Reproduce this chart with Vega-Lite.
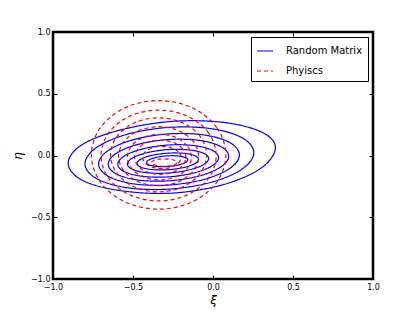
{
  "$schema": "https://vega.github.io/schema/vega-lite/v6.json",
  "width": 320,
  "height": 247,
  "autosize": {"type": "none"},
  "padding": {"left": 53, "top": 32, "right": 42, "bottom": 33},
  "background": "white",
  "config": {
    "font": "DejaVu Sans",
    "view": {"stroke": "black", "strokeWidth": 2.5},
    "axis": {"domain": false, "grid": false, "tickColor": "black", "tickSize": -4, "tickWidth": 1, "labelFontSize": 8, "labelColor": "black", "titleFontSize": 12, "titleFontWeight": "normal", "titleFontStyle": "italic", "titleColor": "black", "labelFlush": false},
    "legend": {"orient": "top-right", "offset": 5, "strokeColor": "black", "fillColor": "white", "padding": 5, "cornerRadius": 0, "labelFontSize": 10, "labelColor": "black", "symbolType": "stroke", "symbolSize": 256, "symbolStrokeWidth": 1.2, "labelOffset": 12, "rowPadding": 6}
  },
  "data": {"values": [
    {"s":"Random Matrix","c":"b1","i":0,"x":0.39,"y":0.065},
    {"s":"Random Matrix","c":"b1","i":1,"x":0.303,"y":0.19},
    {"s":"Random Matrix","c":"b1","i":2,"x":0.066,"y":0.268},
    {"s":"Random Matrix","c":"b1","i":3,"x":-0.2575,"y":0.276},
    {"s":"Random Matrix","c":"b1","i":4,"x":-0.581,"y":0.206},
    {"s":"Random Matrix","c":"b1","i":5,"x":-0.818,"y":0.088},
    {"s":"Random Matrix","c":"b1","i":6,"x":-0.905,"y":-0.062},
    {"s":"Random Matrix","c":"b1","i":7,"x":-0.818,"y":-0.2},
    {"s":"Random Matrix","c":"b1","i":8,"x":-0.581,"y":-0.284},
    {"s":"Random Matrix","c":"b1","i":9,"x":-0.2575,"y":-0.305},
    {"s":"Random Matrix","c":"b1","i":10,"x":0.066,"y":-0.235},
    {"s":"Random Matrix","c":"b1","i":11,"x":0.303,"y":-0.1},

    {"s":"Random Matrix","c":"b2","i":0,"x":0.255,"y":0.023},
    {"s":"Random Matrix","c":"b2","i":1,"x":0.184,"y":0.142},
    {"s":"Random Matrix","c":"b2","i":2,"x":-0.009,"y":0.217},
    {"s":"Random Matrix","c":"b2","i":3,"x":-0.2725,"y":0.228},
    {"s":"Random Matrix","c":"b2","i":4,"x":-0.536,"y":0.172},
    {"s":"Random Matrix","c":"b2","i":5,"x":-0.729,"y":0.064},
    {"s":"Random Matrix","c":"b2","i":6,"x":-0.8,"y":-0.067},
    {"s":"Random Matrix","c":"b2","i":7,"x":-0.729,"y":-0.186},
    {"s":"Random Matrix","c":"b2","i":8,"x":-0.536,"y":-0.261},
    {"s":"Random Matrix","c":"b2","i":9,"x":-0.2725,"y":-0.272},
    {"s":"Random Matrix","c":"b2","i":10,"x":-0.009,"y":-0.216},
    {"s":"Random Matrix","c":"b2","i":11,"x":0.184,"y":-0.108},

    {"s":"Random Matrix","c":"b3","i":0,"x":0.165,"y":0.005},
    {"s":"Random Matrix","c":"b3","i":1,"x":0.106,"y":0.1035},
    {"s":"Random Matrix","c":"b3","i":2,"x":-0.055,"y":0.166},
    {"s":"Random Matrix","c":"b3","i":3,"x":-0.275,"y":0.175},
    {"s":"Random Matrix","c":"b3","i":4,"x":-0.495,"y":0.129},
    {"s":"Random Matrix","c":"b3","i":5,"x":-0.656,"y":0.0395},
    {"s":"Random Matrix","c":"b3","i":6,"x":-0.715,"y":-0.069},
    {"s":"Random Matrix","c":"b3","i":7,"x":-0.656,"y":-0.1675},
    {"s":"Random Matrix","c":"b3","i":8,"x":-0.495,"y":-0.23},
    {"s":"Random Matrix","c":"b3","i":9,"x":-0.275,"y":-0.239},
    {"s":"Random Matrix","c":"b3","i":10,"x":-0.055,"y":-0.193},
    {"s":"Random Matrix","c":"b3","i":11,"x":0.106,"y":-0.1035},

    {"s":"Random Matrix","c":"b4","i":0,"x":0.098,"y":-0.006},
    {"s":"Random Matrix","c":"b4","i":1,"x":0.048,"y":0.073},
    {"s":"Random Matrix","c":"b4","i":2,"x":-0.09,"y":0.123},
    {"s":"Random Matrix","c":"b4","i":3,"x":-0.2785,"y":0.129},
    {"s":"Random Matrix","c":"b4","i":4,"x":-0.467,"y":0.091},
    {"s":"Random Matrix","c":"b4","i":5,"x":-0.6045,"y":0.018},
    {"s":"Random Matrix","c":"b4","i":6,"x":-0.655,"y":-0.07},
    {"s":"Random Matrix","c":"b4","i":7,"x":-0.6045,"y":-0.149},
    {"s":"Random Matrix","c":"b4","i":8,"x":-0.467,"y":-0.199},
    {"s":"Random Matrix","c":"b4","i":9,"x":-0.2785,"y":-0.205},
    {"s":"Random Matrix","c":"b4","i":10,"x":-0.09,"y":-0.167},
    {"s":"Random Matrix","c":"b4","i":11,"x":0.048,"y":-0.094},

    {"s":"Random Matrix","c":"b5","i":0,"x":0.035,"y":-0.017},
    {"s":"Random Matrix","c":"b5","i":1,"x":-0.007,"y":0.044},
    {"s":"Random Matrix","c":"b5","i":2,"x":-0.1225,"y":0.081},
    {"s":"Random Matrix","c":"b5","i":3,"x":-0.28,"y":0.085},
    {"s":"Random Matrix","c":"b5","i":4,"x":-0.4375,"y":0.054},
    {"s":"Random Matrix","c":"b5","i":5,"x":-0.553,"y":-0.003},
    {"s":"Random Matrix","c":"b5","i":6,"x":-0.595,"y":-0.071},
    {"s":"Random Matrix","c":"b5","i":7,"x":-0.553,"y":-0.132},
    {"s":"Random Matrix","c":"b5","i":8,"x":-0.4375,"y":-0.169},
    {"s":"Random Matrix","c":"b5","i":9,"x":-0.28,"y":-0.173},
    {"s":"Random Matrix","c":"b5","i":10,"x":-0.1225,"y":-0.142},
    {"s":"Random Matrix","c":"b5","i":11,"x":-0.007,"y":-0.085},

    {"s":"Random Matrix","c":"b6","i":0,"x":-0.027,"y":-0.025},
    {"s":"Random Matrix","c":"b6","i":1,"x":-0.061,"y":0.0195},
    {"s":"Random Matrix","c":"b6","i":2,"x":-0.154,"y":0.046},
    {"s":"Random Matrix","c":"b6","i":3,"x":-0.281,"y":0.048},
    {"s":"Random Matrix","c":"b6","i":4,"x":-0.408,"y":0.024},
    {"s":"Random Matrix","c":"b6","i":5,"x":-0.501,"y":-0.0185},
    {"s":"Random Matrix","c":"b6","i":6,"x":-0.535,"y":-0.069},
    {"s":"Random Matrix","c":"b6","i":7,"x":-0.501,"y":-0.1135},
    {"s":"Random Matrix","c":"b6","i":8,"x":-0.408,"y":-0.14},
    {"s":"Random Matrix","c":"b6","i":9,"x":-0.281,"y":-0.142},
    {"s":"Random Matrix","c":"b6","i":10,"x":-0.154,"y":-0.118},
    {"s":"Random Matrix","c":"b6","i":11,"x":-0.061,"y":-0.0755},

    {"s":"Random Matrix","c":"b7","i":0,"x":-0.09,"y":-0.032},
    {"s":"Random Matrix","c":"b7","i":1,"x":-0.116,"y":-0.0006},
    {"s":"Random Matrix","c":"b7","i":2,"x":-0.186,"y":0.018},
    {"s":"Random Matrix","c":"b7","i":3,"x":-0.2825,"y":0.019},
    {"s":"Random Matrix","c":"b7","i":4,"x":-0.379,"y":0.002},
    {"s":"Random Matrix","c":"b7","i":5,"x":-0.449,"y":-0.0284},
    {"s":"Random Matrix","c":"b7","i":6,"x":-0.475,"y":-0.064},
    {"s":"Random Matrix","c":"b7","i":7,"x":-0.449,"y":-0.0954},
    {"s":"Random Matrix","c":"b7","i":8,"x":-0.379,"y":-0.114},
    {"s":"Random Matrix","c":"b7","i":9,"x":-0.2825,"y":-0.115},
    {"s":"Random Matrix","c":"b7","i":10,"x":-0.186,"y":-0.098},
    {"s":"Random Matrix","c":"b7","i":11,"x":-0.116,"y":-0.0676},

    {"s":"Random Matrix","c":"b8","i":0,"x":-0.157,"y":-0.035},
    {"s":"Random Matrix","c":"b8","i":1,"x":-0.174,"y":-0.015},
    {"s":"Random Matrix","c":"b8","i":2,"x":-0.2215,"y":-0.0033},
    {"s":"Random Matrix","c":"b8","i":3,"x":-0.286,"y":-0.003},
    {"s":"Random Matrix","c":"b8","i":4,"x":-0.3505,"y":-0.0143},
    {"s":"Random Matrix","c":"b8","i":5,"x":-0.398,"y":-0.034},
    {"s":"Random Matrix","c":"b8","i":6,"x":-0.415,"y":-0.057},
    {"s":"Random Matrix","c":"b8","i":7,"x":-0.398,"y":-0.077},
    {"s":"Random Matrix","c":"b8","i":8,"x":-0.3505,"y":-0.0887},
    {"s":"Random Matrix","c":"b8","i":9,"x":-0.286,"y":-0.089},
    {"s":"Random Matrix","c":"b8","i":10,"x":-0.2215,"y":-0.0777},
    {"s":"Random Matrix","c":"b8","i":11,"x":-0.174,"y":-0.058},

    {"s":"Phyiscs","c":"r1","i":0,"x":0.08,"y":0.005},
    {"s":"Phyiscs","c":"r1","i":1,"x":0.024,"y":0.225},
    {"s":"Phyiscs","c":"r1","i":2,"x":-0.13,"y":0.386},
    {"s":"Phyiscs","c":"r1","i":3,"x":-0.34,"y":0.445},
    {"s":"Phyiscs","c":"r1","i":4,"x":-0.55,"y":0.386},
    {"s":"Phyiscs","c":"r1","i":5,"x":-0.704,"y":0.225},
    {"s":"Phyiscs","c":"r1","i":6,"x":-0.76,"y":0.005},
    {"s":"Phyiscs","c":"r1","i":7,"x":-0.704,"y":-0.215},
    {"s":"Phyiscs","c":"r1","i":8,"x":-0.55,"y":-0.376},
    {"s":"Phyiscs","c":"r1","i":9,"x":-0.34,"y":-0.435},
    {"s":"Phyiscs","c":"r1","i":10,"x":-0.13,"y":-0.376},
    {"s":"Phyiscs","c":"r1","i":11,"x":0.024,"y":-0.215},

    {"s":"Phyiscs","c":"r2","i":0,"x":0.02,"y":0.0},
    {"s":"Phyiscs","c":"r2","i":1,"x":-0.028,"y":0.184},
    {"s":"Phyiscs","c":"r2","i":2,"x":-0.16,"y":0.319},
    {"s":"Phyiscs","c":"r2","i":3,"x":-0.34,"y":0.368},
    {"s":"Phyiscs","c":"r2","i":4,"x":-0.52,"y":0.319},
    {"s":"Phyiscs","c":"r2","i":5,"x":-0.652,"y":0.184},
    {"s":"Phyiscs","c":"r2","i":6,"x":-0.7,"y":0.0},
    {"s":"Phyiscs","c":"r2","i":7,"x":-0.652,"y":-0.184},
    {"s":"Phyiscs","c":"r2","i":8,"x":-0.52,"y":-0.319},
    {"s":"Phyiscs","c":"r2","i":9,"x":-0.34,"y":-0.368},
    {"s":"Phyiscs","c":"r2","i":10,"x":-0.16,"y":-0.319},
    {"s":"Phyiscs","c":"r2","i":11,"x":-0.028,"y":-0.184},

    {"s":"Phyiscs","c":"r3","i":0,"x":-0.04,"y":0.005},
    {"s":"Phyiscs","c":"r3","i":1,"x":-0.08,"y":0.155},
    {"s":"Phyiscs","c":"r3","i":2,"x":-0.19,"y":0.265},
    {"s":"Phyiscs","c":"r3","i":3,"x":-0.34,"y":0.305},
    {"s":"Phyiscs","c":"r3","i":4,"x":-0.49,"y":0.265},
    {"s":"Phyiscs","c":"r3","i":5,"x":-0.6,"y":0.155},
    {"s":"Phyiscs","c":"r3","i":6,"x":-0.64,"y":0.005},
    {"s":"Phyiscs","c":"r3","i":7,"x":-0.6,"y":-0.145},
    {"s":"Phyiscs","c":"r3","i":8,"x":-0.49,"y":-0.255},
    {"s":"Phyiscs","c":"r3","i":9,"x":-0.34,"y":-0.295},
    {"s":"Phyiscs","c":"r3","i":10,"x":-0.19,"y":-0.255},
    {"s":"Phyiscs","c":"r3","i":11,"x":-0.08,"y":-0.145},

    {"s":"Phyiscs","c":"r4","i":0,"x":-0.09,"y":-0.006},
    {"s":"Phyiscs","c":"r4","i":1,"x":-0.1235,"y":0.1135},
    {"s":"Phyiscs","c":"r4","i":2,"x":-0.215,"y":0.201},
    {"s":"Phyiscs","c":"r4","i":3,"x":-0.34,"y":0.233},
    {"s":"Phyiscs","c":"r4","i":4,"x":-0.465,"y":0.201},
    {"s":"Phyiscs","c":"r4","i":5,"x":-0.5565,"y":0.1135},
    {"s":"Phyiscs","c":"r4","i":6,"x":-0.59,"y":-0.006},
    {"s":"Phyiscs","c":"r4","i":7,"x":-0.5565,"y":-0.1255},
    {"s":"Phyiscs","c":"r4","i":8,"x":-0.465,"y":-0.213},
    {"s":"Phyiscs","c":"r4","i":9,"x":-0.34,"y":-0.245},
    {"s":"Phyiscs","c":"r4","i":10,"x":-0.215,"y":-0.213},
    {"s":"Phyiscs","c":"r4","i":11,"x":-0.1235,"y":-0.1255},

    {"s":"Phyiscs","c":"r5","i":0,"x":-0.135,"y":-0.013},
    {"s":"Phyiscs","c":"r5","i":1,"x":-0.162,"y":0.0795},
    {"s":"Phyiscs","c":"r5","i":2,"x":-0.235,"y":0.147},
    {"s":"Phyiscs","c":"r5","i":3,"x":-0.335,"y":0.172},
    {"s":"Phyiscs","c":"r5","i":4,"x":-0.435,"y":0.147},
    {"s":"Phyiscs","c":"r5","i":5,"x":-0.508,"y":0.0795},
    {"s":"Phyiscs","c":"r5","i":6,"x":-0.535,"y":-0.013},
    {"s":"Phyiscs","c":"r5","i":7,"x":-0.508,"y":-0.1055},
    {"s":"Phyiscs","c":"r5","i":8,"x":-0.435,"y":-0.173},
    {"s":"Phyiscs","c":"r5","i":9,"x":-0.335,"y":-0.198},
    {"s":"Phyiscs","c":"r5","i":10,"x":-0.235,"y":-0.173},
    {"s":"Phyiscs","c":"r5","i":11,"x":-0.162,"y":-0.1055},

    {"s":"Phyiscs","c":"r6","i":0,"x":-0.17,"y":-0.014},
    {"s":"Phyiscs","c":"r6","i":1,"x":-0.1914,"y":0.0555},
    {"s":"Phyiscs","c":"r6","i":2,"x":-0.25,"y":0.1064},
    {"s":"Phyiscs","c":"r6","i":3,"x":-0.33,"y":0.125},
    {"s":"Phyiscs","c":"r6","i":4,"x":-0.41,"y":0.1064},
    {"s":"Phyiscs","c":"r6","i":5,"x":-0.4686,"y":0.0555},
    {"s":"Phyiscs","c":"r6","i":6,"x":-0.49,"y":-0.014},
    {"s":"Phyiscs","c":"r6","i":7,"x":-0.4686,"y":-0.0835},
    {"s":"Phyiscs","c":"r6","i":8,"x":-0.41,"y":-0.1344},
    {"s":"Phyiscs","c":"r6","i":9,"x":-0.33,"y":-0.153},
    {"s":"Phyiscs","c":"r6","i":10,"x":-0.25,"y":-0.1344},
    {"s":"Phyiscs","c":"r6","i":11,"x":-0.1914,"y":-0.0835},

    {"s":"Phyiscs","c":"r7","i":0,"x":-0.2,"y":-0.016},
    {"s":"Phyiscs","c":"r7","i":1,"x":-0.216,"y":0.029},
    {"s":"Phyiscs","c":"r7","i":2,"x":-0.26,"y":0.062},
    {"s":"Phyiscs","c":"r7","i":3,"x":-0.32,"y":0.074},
    {"s":"Phyiscs","c":"r7","i":4,"x":-0.38,"y":0.062},
    {"s":"Phyiscs","c":"r7","i":5,"x":-0.424,"y":0.029},
    {"s":"Phyiscs","c":"r7","i":6,"x":-0.44,"y":-0.016},
    {"s":"Phyiscs","c":"r7","i":7,"x":-0.424,"y":-0.061},
    {"s":"Phyiscs","c":"r7","i":8,"x":-0.38,"y":-0.094},
    {"s":"Phyiscs","c":"r7","i":9,"x":-0.32,"y":-0.106},
    {"s":"Phyiscs","c":"r7","i":10,"x":-0.26,"y":-0.094},
    {"s":"Phyiscs","c":"r7","i":11,"x":-0.216,"y":-0.061},

    {"s":"Phyiscs","c":"r8","i":0,"x":-0.225,"y":-0.057},
    {"s":"Phyiscs","c":"r8","i":1,"x":-0.2357,"y":-0.042},
    {"s":"Phyiscs","c":"r8","i":2,"x":-0.265,"y":-0.031},
    {"s":"Phyiscs","c":"r8","i":3,"x":-0.305,"y":-0.027},
    {"s":"Phyiscs","c":"r8","i":4,"x":-0.345,"y":-0.031},
    {"s":"Phyiscs","c":"r8","i":5,"x":-0.3743,"y":-0.042},
    {"s":"Phyiscs","c":"r8","i":6,"x":-0.385,"y":-0.057},
    {"s":"Phyiscs","c":"r8","i":7,"x":-0.3743,"y":-0.072},
    {"s":"Phyiscs","c":"r8","i":8,"x":-0.345,"y":-0.083},
    {"s":"Phyiscs","c":"r8","i":9,"x":-0.305,"y":-0.087},
    {"s":"Phyiscs","c":"r8","i":10,"x":-0.265,"y":-0.083},
    {"s":"Phyiscs","c":"r8","i":11,"x":-0.2357,"y":-0.072}
  ]},
  "layer": [
    {
      "mark": {"type": "line", "interpolate": "cardinal-closed", "strokeWidth": 1.2},
      "encoding": {
        "x": {"field": "x", "type": "quantitative", "scale": {"domain": [-1, 1], "nice": false, "zero": false}, "axis": {"values": [-1, -0.5, 0, 0.5, 1], "format": ".1f", "title": "ξ", "labelPadding": 8, "titlePadding": 3}},
        "y": {"field": "y", "type": "quantitative", "scale": {"domain": [-1, 1], "nice": false, "zero": false}, "axis": {"values": [-1, -0.5, 0, 0.5, 1], "format": ".1f", "title": "η", "labelPadding": 7, "titlePadding": 6}},
        "color": {"field": "s", "type": "nominal", "scale": {"domain": ["Random Matrix", "Phyiscs"], "range": ["#0000ff", "#ff0000"]}, "legend": {"title": null}},
        "strokeDash": {"field": "s", "type": "nominal", "scale": {"domain": ["Random Matrix", "Phyiscs"], "range": [[1, 0], [4, 3]]}, "legend": {"title": null}},
        "detail": {"field": "c", "type": "nominal"},
        "order": {"field": "i", "type": "quantitative"}
      }
    },
    {
      "mark": {"type": "line", "opacity": 0},
      "encoding": {
        "x": {"field": "x", "type": "quantitative", "axis": {"orient": "top", "values": [-1, -0.5, 0, 0.5, 1], "labels": false, "title": null}},
        "y": {"field": "y", "type": "quantitative", "axis": {"orient": "right", "values": [-1, -0.5, 0, 0.5, 1], "labels": false, "title": null}},
        "detail": {"field": "c", "type": "nominal"},
        "order": {"field": "i", "type": "quantitative"}
      }
    }
  ],
  "resolve": {"axis": {"x": "independent", "y": "independent"}}
}
